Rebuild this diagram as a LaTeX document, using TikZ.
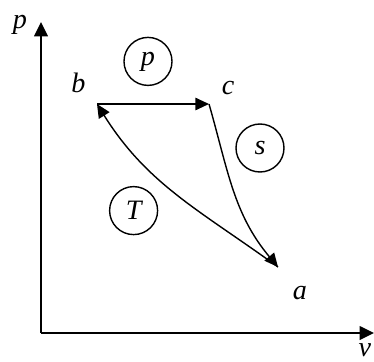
\documentclass[tikz,border=0pt]{standalone}
\usepackage{fontspec}
\setmainfont{Liberation Serif}
\usetikzlibrary{arrows.meta}

\begin{document}
\begin{tikzpicture}[
    lbl/.style={font=\fontsize{20}{24}\selectfont\itshape, inner sep=0pt},
    proc/.style={draw, circle, line width=1pt, minimum size=1.2cm, inner sep=0pt, font=\fontsize{20}{24}\selectfont\itshape},
    axis/.style={-{Triangle[length=3.6mm, width=3.4mm]}, line width=1.4pt},
    arrow/.style={-{Triangle[length=3.4mm, width=3.1mm]}, line width=1pt}
]
    \useasboundingbox (0,0) rectangle (9.35,9.025);

    % axes
    \coordinate (O) at (1.025,0.7);
    \coordinate (ytop) at (1.025,8.475);
    \coordinate (xend) at (9.35,0.7);
    \draw[axis] (O) -- (ytop);
    \draw[axis] (O) -- (xend);
    \node[lbl] (plbl) at (0.5,8.4) {p};
    \node[lbl] (vlbl) at (9.12,0.26) {v};

    % states
    \coordinate (b) at (2.425,6.425);
    \coordinate (c) at (5.225,6.425);
    \coordinate (a) at (6.95,2.35);
    \node[lbl] (blbl) at (1.96,6.95) {b};
    \node[lbl] (clbl) at (5.7,6.825) {c};
    \node[lbl] (albl) at (7.5,1.69) {a};

    % processes
    \node[proc] (isop) at (3.7,7.49) {p};
    \node[proc] (isos) at (6.5,5.325) {s};
    \node[proc] (isoT) at (3.34,3.76) {T};

    \draw[arrow] (b) -- (c);
    \draw[arrow] (c) to[out=-74, in=130] (a);
    \draw[arrow] (a) to[out=144, in=-58] (b);
\end{tikzpicture}
\end{document}
